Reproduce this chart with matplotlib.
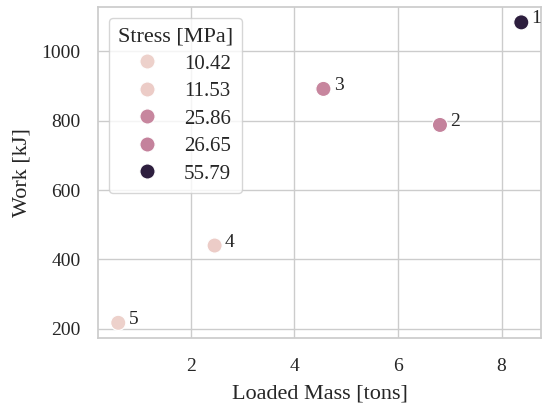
import numpy as np
import pandas as pd
import seaborn as sns
import matplotlib.pyplot as plt

# values
labels = ['1', '2', '3', '4', '5']
mass = [8.38, 6.81, 4.56, 2.46, 0.60]
work = [1084, 788, 892, 440, 217]
stress = [55.79, 26.65, 25.86, 11.53, 10.42]

df = pd.DataFrame({'Loaded Mass [tons]': mass, 'Work [kJ]': work,
                   'Stress [MPa]': stress, 'label': labels})

sns.set_theme(style='whitegrid', font_scale=1.2)
plt.rcParams['font.family'] = ['Liberation Serif', 'DejaVu Serif']

fig, ax = plt.subplots(figsize=(5.42, 4.08), dpi=100)
fig.subplots_adjust(left=0.181, right=0.999, bottom=0.172, top=0.982)

sns.scatterplot(data=df, x='Loaded Mass [tons]', y='Work [kJ]', hue='Stress [MPa]',
                legend='full', s=120, ax=ax)

for x, y, t in zip(mass, work, labels):
    ax.text(x + 0.2, y + 10, t, fontsize=14, ha='left', va='center')

leg = ax.legend(loc='upper left', title='Stress [MPa]', fontsize=15,
                title_fontsize=16, borderaxespad=0.5, borderpad=0.45,
                labelspacing=0.38, handlelength=2.6, handletextpad=0.5)
ax.set_xlabel('Loaded Mass [tons]', fontsize=16, labelpad=7)
ax.set_ylabel('Work [kJ]', fontsize=16, labelpad=7)
ax.tick_params(axis='x', labelsize=14, pad=8.5)
ax.tick_params(axis='y', labelsize=14, pad=6.5)

fig.savefig('out.png', dpi=100)
